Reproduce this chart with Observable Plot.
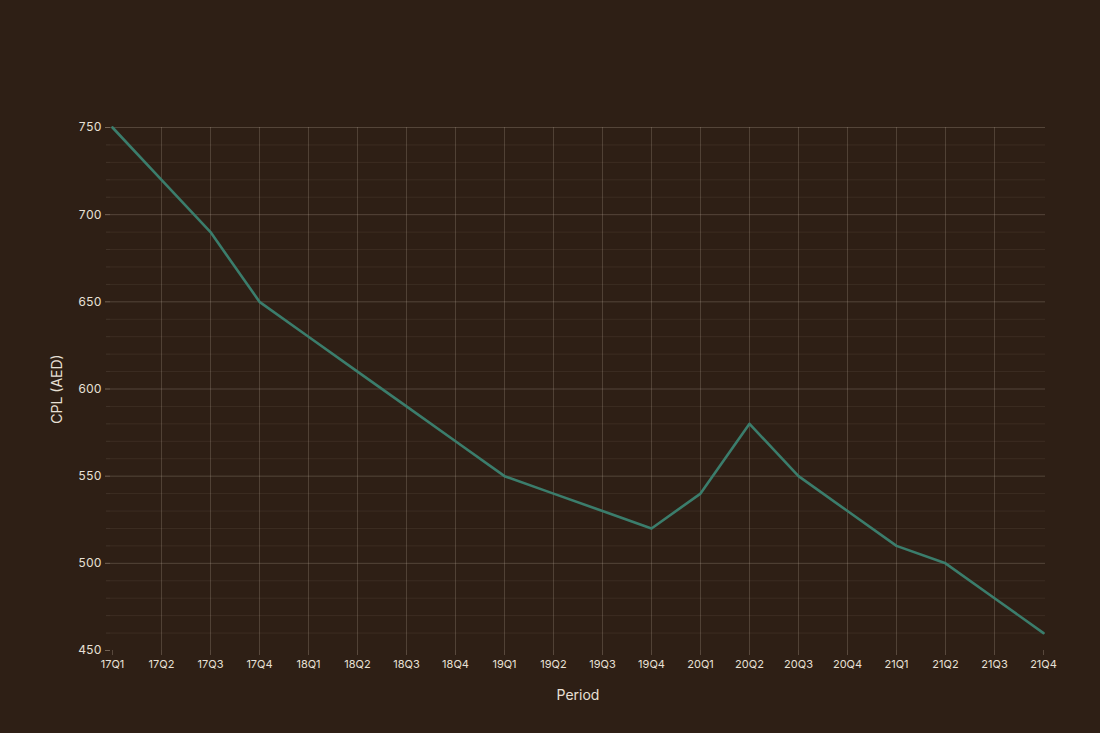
<!DOCTYPE html>
<html>
<head>
<meta charset="utf-8">
<script src="https://cdn.jsdelivr.net/npm/d3@7"></script>
<script src="https://cdn.jsdelivr.net/npm/@observablehq/plot@0.6"></script>
<style>
  html, body { margin: 0; padding: 0; background: #2e1f15; }
  #chart { width: 1100px; height: 733px; }
</style>
</head>
<body>
<div id="chart"></div>
<script>
const periods = ["17Q1","17Q2","17Q3","17Q4","18Q1","18Q2","18Q3","18Q4","19Q1","19Q2","19Q3","19Q4","20Q1","20Q2","20Q3","20Q4","21Q1","21Q2","21Q3","21Q4"];
const cpl = [750,720,690,650,630,610,590,570,550,540,530,520,540,580,550,530,510,500,480,460];
const yMajorTicks = [450,500,550,600,650,700,750];
const yMinorTicks = d3.range(450, 751, 10).filter(v => v % 50 !== 0);

const data = periods.map((p, i) => ({period: p, cpl: cpl[i]}));
const innerPeriods = periods.slice(1, -1);

const chart = Plot.plot({
  width: 1100,
  height: 733,
  marginLeft: 110,
  marginRight: 55,
  marginTop: 127,
  marginBottom: 83,
  style: {background: "#2e1f15", color: "#e8e0d6", fontFamily: "Inter, 'Noto Sans', sans-serif", fontSize: "11px"},
  x: {type: "point", domain: periods, padding: 0},
  y: {domain: [450, 750]},
  marks: [
    Plot.ruleY(yMinorTicks, {stroke: "#b8a898", strokeOpacity: 0.1, strokeWidth: 1}),
    Plot.ruleY(yMajorTicks.filter(v => v !== 450), {stroke: "#b8a898", strokeOpacity: 0.28, strokeWidth: 1}),
    Plot.ruleX(innerPeriods, {stroke: "#b8a898", strokeOpacity: 0.25, strokeWidth: 1}),
    Plot.axisY({ticks: yMajorTicks, tickSize: 5, tickPadding: 4, stroke: "#b8a898", strokeOpacity: 0.5, label: null, fontSize: 12}),
    Plot.axisY({ticks: yMinorTicks, tickSize: 4, stroke: "#b8a898", strokeOpacity: 0.15, tickFormat: () => "", label: null}),
    Plot.axisY({ticks: [], label: "CPL (AED)", labelAnchor: "center", labelArrow: "none", labelOffset: 58, fontSize: 14}),
    Plot.axisX({ticks: periods, tickSize: 5, tickPadding: 5, stroke: "#b8a898", strokeOpacity: 0.3, label: null, fontSize: 11}),
    Plot.axisX({ticks: [], label: "Period", labelAnchor: "center", labelArrow: "none", labelOffset: 49, fontSize: 14}),
    Plot.line(data, {x: "period", y: "cpl", stroke: "#3b7d6c", strokeWidth: 2.6})
  ]
});
document.getElementById("chart").appendChild(chart);
</script>
</body>
</html>
